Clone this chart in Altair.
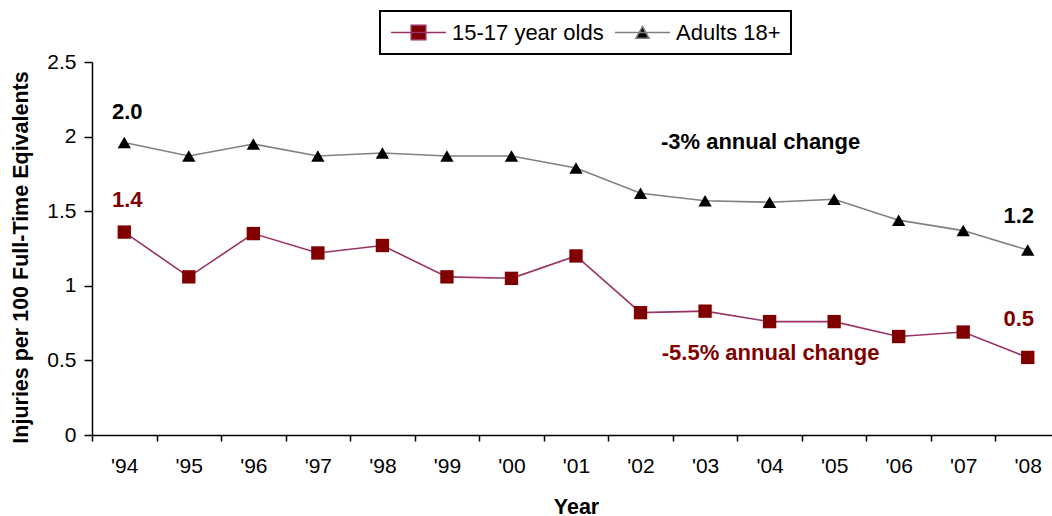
import altair as alt
import pandas as pd

# ---- data -------------------------------------------------------------
years = ["'94", "'95", "'96", "'97", "'98", "'99", "'00", "'01",
         "'02", "'03", "'04", "'05", "'06", "'07", "'08"]
youth = [1.36, 1.06, 1.35, 1.22, 1.27, 1.06, 1.05, 1.20,
         0.82, 0.83, 0.76, 0.76, 0.66, 0.69, 0.52]
adults = [1.96, 1.87, 1.95, 1.87, 1.89, 1.87, 1.87, 1.79,
          1.62, 1.57, 1.56, 1.58, 1.44, 1.37, 1.24]
series_names = ["15-17 year olds", "Adults 18+"]
trend_notes = ["-5.5% annual change", "-3% annual change"]

# ---- styling ----------------------------------------------------------
FONT = "Liberation Sans"
MAROON = "#800000"
PLUM = "#993366"
GRAY = "#808080"

rows = []
for i, yr in enumerate(years):
    rows.append({"year": yr, "value": youth[i], "series": series_names[0]})
    rows.append({"year": yr, "value": adults[i], "series": series_names[1]})
df = pd.DataFrame(rows)

# category axis: the bands run a little past the right edge of the view
x_scale = alt.Scale(domain=years, range=[0, 968], paddingInner=0, paddingOuter=0)
y_scale = alt.Scale(domain=[0, 2.5], nice=False)

x_enc = alt.X(
    "year:O",
    scale=x_scale,
    sort=years,
    title="Year",
    axis=alt.Axis(
        tickBand="extent",
        tickSize=6,
        labelAngle=0,
        labelPadding=14,
        labelOverlap=False,
        titlePadding=20,
        titleX=484,
    ),
)
y_enc = alt.Y(
    "value:Q",
    scale=y_scale,
    title="Injuries per 100 Full-Time Eqivalents",
    axis=alt.Axis(
        values=[0, 0.5, 1, 1.5, 2, 2.5],
        format="~g",
        tickSize=8,
        labelPadding=8,
        titlePadding=14,
        titleY=195,
    ),
)

base = alt.Chart(df).encode(x=x_enc, y=y_enc)


def series_layers(name, line_color, marker_color, shape):
    sub = base.transform_filter(alt.datum.series == name)
    line = sub.mark_line(color=line_color, strokeWidth=1.6)
    pts = sub.mark_point(shape=shape, filled=True, color=marker_color,
                         size=178, opacity=1)
    return [line, pts]


def value_label(name, color, year, dx, dy):
    return base.transform_filter(
        (alt.datum.series == name) & (alt.datum.year == year)
    ).mark_text(
        font=FONT, fontSize=22, fontWeight="bold", color=color,
        dx=dx, dy=dy, align="center", baseline="middle",
    ).encode(text=alt.Text("value:Q", format=".1f"))


# trend notes placed beside each series, anchored on the '04 column
notes = pd.DataFrame({
    "note": trend_notes,
    "year": ["'04", "'04"],
    "value": [0.549, 1.967],
})


def note_layer(i, color, dx):
    return alt.Chart(notes.iloc[[i]]).mark_text(
        font=FONT, fontSize=22, fontWeight="bold", color=color,
        align="center", baseline="middle", dx=dx,
    ).encode(x=x_enc, y=y_enc, text="note:N")


# legend symbols: short line with the series marker on it
sq_path = "M-1,0H1M-0.266,-0.266H0.266V0.266H-0.266Z"
tri_path = "M-1,0H1M0,-0.22L0.24,0.21H-0.24Z"
leg = alt.Legend(
    title=None,
    orient="none",
    legendX=288,
    legendY=-51,
    direction="horizontal",
    symbolSize=3025,
    symbolStrokeWidth=1.5,
    clipHeight=23,
    padding=10,
    strokeColor="black",
    labelFont=FONT,
    labelFontSize=22,
    labelColor="black",
    labelOffset=5,
    columnPadding=10,
    labelBaseline="middle",
)
legend_layer = base.mark_point(size=0, filled=True, opacity=1).encode(
    fill=alt.Fill("series:N", scale=alt.Scale(domain=series_names, range=[MAROON, "black"]), legend=leg),
    stroke=alt.Stroke("series:N", scale=alt.Scale(domain=series_names, range=[PLUM, GRAY]), legend=leg),
    shape=alt.Shape("series:N", scale=alt.Scale(domain=series_names, range=[sq_path, tri_path]), legend=leg),
)

first, final = years[0], years[-1]
layers = (
    series_layers(series_names[1], GRAY, "black", "triangle-up")
    + series_layers(series_names[0], PLUM, MAROON, "square")
    + [
        value_label(series_names[1], "black", first, 3, -31),
        value_label(series_names[0], MAROON, first, 3, -32),
        value_label(series_names[1], "black", final, -9, -34),
        value_label(series_names[0], MAROON, final, -9, -38),
        note_layer(0, MAROON, 1),
        note_layer(1, "black", -9),
        legend_layer,
    ]
)

chart = alt.layer(*layers).properties(
    width=960,
    height=373,
    padding={"left": 92, "top": 62, "right": 0, "bottom": 81},
    autosize=alt.AutoSizeParams(type="none"),
).configure_view(
    stroke="transparent",
).configure_axis(
    grid=False,
    labelFont=FONT,
    labelFontSize=21,
    labelColor="black",
    titleFont=FONT,
    titleFontSize=21.5,
    titleFontWeight="bold",
    titleColor="black",
    domainColor="black",
    domainWidth=1.5,
    tickColor="black",
    tickWidth=1.5,
).configure_legend(
    strokeWidth=2,
)

chart.save("out.html", embed_options={"renderer": "svg", "actions": False})
